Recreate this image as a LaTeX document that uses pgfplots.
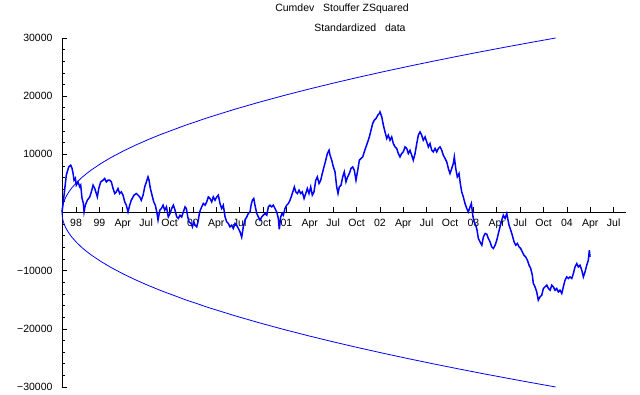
\documentclass[border=0pt]{standalone}
\usepackage{fontspec}
\setmainfont{Liberation Sans}
\usepackage{pgfplots}
\usepackage{pgfplotstable}
\pgfplotsset{compat=1.18}
\definecolor{mblue}{RGB}{0,0,255}

\pgfplotstableread{
t up lo
98.6000 0 0
98.6026 671 -671
98.6053 949 -949
98.6106 1342 -1342
98.6158 1643 -1643
98.6264 2121 -2121
98.6396 2598 -2598
98.6528 3000 -3000
98.6792 3674 -3674
98.7056 4243 -4243
98.7584 5196 -5196
98.8112 6000 -6000
98.8640 6708 -6708
98.9168 7348 -7348
99.0224 8485 -8485
99.1280 9487 -9487
99.2600 10607 -10607
99.3920 11619 -11619
99.5240 12550 -12550
99.6560 13416 -13416
99.9200 15000 -15000
100.184 16432 -16432
100.448 17748 -17748
100.712 18974 -18974
100.976 20125 -20125
101.240 21213 -21213
101.504 22249 -22249
101.768 23238 -23238
102.032 24187 -24187
102.296 25100 -25100
102.560 25981 -25981
102.824 26833 -26833
103.088 27659 -27659
103.352 28460 -28460
103.616 29240 -29240
103.880 30000 -30000
}\envtable

\pgfplotstableread{
t v
98.600 0
98.622 2974
98.646 6412
98.672 7839
98.693 8131
98.707 7615
98.718 6756
98.729 5552
98.743 5896
98.753 4693
98.771 5260
98.790 4401
98.800 4693
98.814 2458
98.828 1599
98.836 103
98.849 1255
98.871 2114
98.897 2682
98.914 3541
98.932 4693
98.950 4126
98.967 3266
98.978 2682
98.993 4126
99.014 5260
99.039 5552
99.057 5845
99.074 5260
99.092 5552
99.110 5552
99.128 5260
99.146 4126
99.164 3266
99.181 3541
99.199 4126
99.217 3266
99.234 3541
99.253 2974
99.271 1822
99.288 1255
99.306 103
99.324 1255
99.341 2114
99.370 2974
99.395 3266
99.413 2974
99.431 2682
99.448 2114
99.467 2974
99.485 4401
99.502 5260
99.520 6120
99.531 5552
99.545 4126
99.563 2974
99.581 1822
99.598 1255
99.616 -120
99.627 -1300
99.646 395
99.663 688
99.681 1255
99.699 395
99.717 963
99.737 -756
99.755 -172
99.773 688
99.791 1255
99.809 395
99.827 -756
99.844 -1031
99.862 -464
99.880 -756
99.898 103
99.916 963
99.930 688
99.945 -756
99.959 -1616
99.981 -1891
99.995 -2475
100.010 -1616
100.023 -2183
100.041 -2475
100.058 -1324
100.069 -172
100.079 395
100.094 963
100.111 1547
100.130 1255
100.148 1822
100.165 2682
100.183 2407
100.201 1822
100.218 2682
100.236 2114
100.255 2682
100.272 2974
100.290 1547
100.308 688
100.325 1255
100.344 -756
100.362 -1616
100.379 -1891
100.397 -2475
100.415 -2183
100.432 -2750
100.450 -1891
100.468 -2183
100.486 -2750
100.504 -3335
100.522 -4246
100.539 -2475
100.557 -1324
100.576 -756
100.593 -172
100.611 103
100.622 1255
100.636 2114
100.651 2407
100.664 1255
100.683 -172
100.700 -756
100.718 -1324
100.736 -756
100.753 -464
100.771 -172
100.790 -464
100.807 963
100.824 1255
100.843 963
100.860 1255
100.878 688
100.896 103
100.914 -1031
100.924 -2900
100.939 -756
100.953 -172
100.967 -464
100.985 688
101.003 1255
101.021 1547
101.039 2114
101.057 2974
101.074 3833
101.085 4401
101.100 3541
101.117 3266
101.135 3833
101.153 3266
101.170 3541
101.189 2407
101.207 3266
101.224 4126
101.242 3266
101.260 4401
101.277 2974
101.295 3541
101.314 5552
101.331 6120
101.349 4985
101.367 5552
101.384 6704
101.402 7839
101.421 8990
101.438 10142
101.456 10709
101.467 9850
101.485 8990
101.502 7839
101.520 6979
101.538 4401
101.552 3266
101.566 4401
101.584 4693
101.602 6120
101.619 6979
101.637 5260
101.655 6120
101.673 6704
101.691 7564
101.709 7839
101.726 7271
101.744 5552
101.763 7271
101.780 8990
101.798 9283
101.816 9558
101.833 10417
101.851 11277
101.870 12136
101.887 12996
101.905 14147
101.923 15299
101.940 15866
101.959 16159
101.977 16726
101.994 17018
102.001 17293
102.020 16434
102.037 15007
102.055 13855
102.073 12721
102.090 13288
102.108 12428
102.126 12996
102.143 11861
102.162 11277
102.180 11002
102.197 10142
102.215 9558
102.233 10142
102.250 10417
102.269 11277
102.287 11002
102.304 10142
102.322 10709
102.340 9850
102.357 8990
102.376 10142
102.394 11861
102.411 13288
102.429 13855
102.447 13288
102.464 12428
102.483 12996
102.501 12136
102.518 11277
102.536 11861
102.554 10709
102.571 10417
102.590 11002
102.608 10417
102.625 11002
102.643 11277
102.661 10709
102.678 9850
102.697 9283
102.715 8698
102.732 7564
102.750 6704
102.768 7564
102.785 8423
102.796 9558
102.811 7564
102.828 6120
102.846 6704
102.860 4985
102.875 3541
102.892 2682
102.910 1547
102.929 688
102.946 103
102.964 963
102.978 1547
102.993 -464
103.007 -1616
103.025 -2183
103.039 -3043
103.053 -4469
103.071 -5054
103.090 -5621
103.107 -4194
103.125 -3610
103.143 -3730
103.160 -4469
103.178 -5054
103.196 -5913
103.213 -6188
103.232 -5621
103.250 -4762
103.267 -3610
103.285 -2475
103.303 -1324
103.320 -464
103.339 -1031
103.357 -172
103.367 -1031
103.381 -2183
103.399 -3043
103.416 -3902
103.435 -5054
103.453 -5621
103.470 -5329
103.488 -5913
103.506 -6188
103.523 -6773
103.541 -7340
103.559 -7632
103.577 -8200
103.595 -9059
103.613 -9626
103.630 -10778
103.641 -12205
103.659 -12789
103.677 -13649
103.694 -15076
103.712 -14508
103.731 -14216
103.748 -13064
103.766 -12789
103.785 -12497
103.802 -13064
103.820 -13357
103.838 -12497
103.855 -12789
103.873 -13357
103.891 -13064
103.908 -13649
103.926 -13357
103.945 -13924
103.962 -12789
103.980 -11638
103.998 -11070
104.015 -11345
104.033 -11070
104.052 -11345
104.069 -10486
104.087 -9351
104.105 -8767
104.122 -9351
104.140 -9059
104.159 -9919
104.176 -11070
104.194 -10211
104.212 -9059
104.229 -8200
104.240 -6481
104.247 -7632
}\cumtable

\begin{document}
\begin{tikzpicture}
\path[use as bounding box] (-62pt,-8pt) rectangle (578pt,387pt);
\begin{axis}[
  scale only axis, width=564pt, height=349pt,
  xmin=98.6, xmax=104.632, ymin=-30000, ymax=30000,
  scaled y ticks=false, scaled x ticks=false,
  axis x line=middle, axis y line=left,
  axis line style={-, black, line width=0.7pt},
  every inner x axis line/.append style={-},
  every outer y axis line/.append style={-},
  xtick={98.75,99,99.25,99.5,99.75,100,100.25,100.5,100.75,101,101.25,101.5,101.75,102,102.25,102.5,102.75,103,103.25,103.5,103.75,104,104.25,104.5},
  xticklabels={98,99,Apr,Jul,Oct,00,Apr,Jul,Oct,01,Apr,Jul,Oct,02,Apr,Jul,Oct,03,Apr,Jul,Oct,04,Apr,Jul},
  ytick={-30000,-20000,-10000,0,10000,20000,30000},
  yticklabels={−30000,−20000,−10000,,10000,20000,30000},
  minor y tick num=4,
  tick align=inside,
  major tick length=5pt, minor tick length=3pt,
  tick style={black, line width=0.6pt},
  ticklabel style={font=\fontsize{10.5}{12}\selectfont},
  y tick label style={xshift=-6pt},
  x tick label style={yshift=-3pt},
  clip=false,
]
\addplot[mblue, line width=0.8pt] table[x=t, y=up] {\envtable};
\addplot[mblue, line width=0.8pt] table[x=t, y=lo] {\envtable};
\addplot[mblue, line width=1.5pt, line join=miter] table[x=t, y=v] {\cumtable};
\end{axis}
\node[font=\fontsize{10.5}{12}\selectfont] at (280pt,378pt) {Cumdev\ \ \ Stouffer ZSquared};
\node[font=\fontsize{10.5}{12}\selectfont] at (298pt,359pt) {Standardized\ \ \ data};
\end{tikzpicture}
\end{document}
